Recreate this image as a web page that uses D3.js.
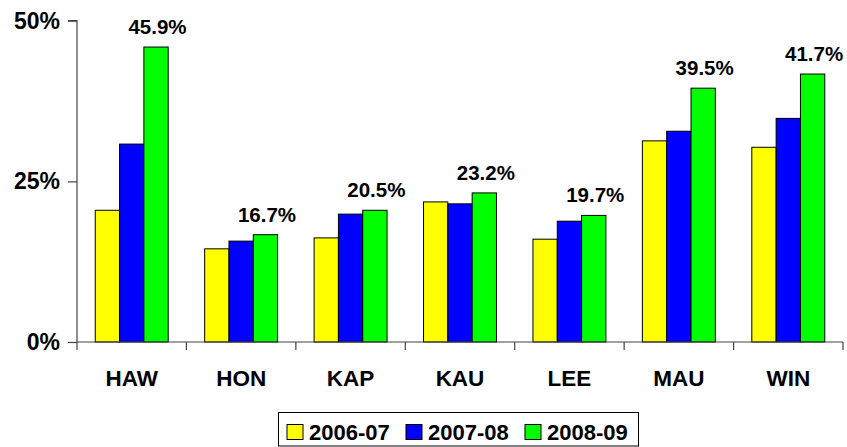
<!DOCTYPE html>
<html>
<head>
<meta charset="utf-8">
<script src="https://cdn.jsdelivr.net/npm/d3@7"></script>
<style>
  html, body { margin: 0; padding: 0; background: #fff; }
  svg { display: block; font-family: "Liberation Sans", Arial, sans-serif; font-weight: bold; }
</style>
</head>
<body>
<svg id="chart" width="847" height="447"></svg>
<script>
const categories = ["HAW", "HON", "KAP", "KAU", "LEE", "MAU", "WIN"];
const seriesNames = ["2006-07", "2007-08", "2008-09"];
const values0607 = [20.5, 14.5, 16.2, 21.8, 16.0, 31.3, 30.3];
const values0708 = [30.8, 15.7, 19.9, 21.5, 18.8, 32.8, 34.8];
const values0809 = [45.9, 16.7, 20.5, 23.2, 19.7, 39.5, 41.7];
const colors = ["#FFFF00", "#0000FF", "#00FF00"];
const yTicks = [0, 25, 50];

const seriesValues = [values0607, values0708, values0809];
const svg = d3.select("#chart");

const plotLeft = 77, plotRight = 843, plotTop = 20.7, plotBottom = 342;

const x0 = d3.scaleBand().domain(categories).range([plotLeft, plotRight]).paddingInner(0).paddingOuter(0);
const x1 = d3.scaleBand().domain(seriesNames).range([0, x0.bandwidth()]).paddingInner(0).paddingOuter(0.75);
const y = d3.scaleLinear().domain([0, 50]).range([plotBottom, plotTop]);

// bars
const groups = svg.append("g").selectAll("g")
  .data(categories)
  .join("g")
  .attr("transform", d => `translate(${x0(d)},0)`);

groups.selectAll("rect")
  .data((c, i) => seriesNames.map((s, j) => ({ s, j, v: seriesValues[j][i] })))
  .join("rect")
  .attr("x", d => x1(d.s))
  .attr("y", d => y(d.v))
  .attr("width", x1.bandwidth())
  .attr("height", d => y(0) - y(d.v))
  .attr("fill", d => colors[d.j])
  .attr("stroke", "#000")
  .attr("stroke-width", 1);

// data labels on last series
groups.append("text")
  .attr("x", x1(seriesNames[2]) + x1.bandwidth() / 2 + 1.5)
  .attr("y", (c, i) => y(values0809[i]) - 13)
  .attr("text-anchor", "middle")
  .attr("font-size", 20.5)
  .attr("fill", "#000")
  .text((c, i) => values0809[i].toFixed(1) + "%");

// y axis
const yAxis = d3.axisLeft(y).tickValues(yTicks).tickFormat(d => d + "%").tickSize(9).tickPadding(8);
const gy = svg.append("g").attr("transform", `translate(${plotLeft},0)`).call(yAxis);
gy.select(".domain").attr("stroke", "#444").attr("stroke-width", 1.2).attr("d", `M-9,${plotTop}H0V${plotBottom}`);
gy.selectAll(".tick line").attr("stroke", "#444").attr("stroke-width", 1.2);
gy.selectAll(".tick text").attr("font-size", 23).attr("font-family", "Liberation Sans, Arial, sans-serif").attr("font-weight", "bold").attr("fill", "#000");

// x axis
const boundaries = d3.range(categories.length + 1).map(i => plotLeft + i * x0.step());
svg.append("line").attr("x1", plotLeft).attr("x2", plotRight).attr("y1", plotBottom).attr("y2", plotBottom).attr("stroke", "#444").attr("stroke-width", 1.2);
svg.append("g").selectAll("line").data(boundaries).join("line")
  .attr("x1", d => d).attr("x2", d => d).attr("y1", plotBottom).attr("y2", plotBottom + 8)
  .attr("stroke", "#444").attr("stroke-width", 1.2);
svg.append("g").selectAll("text").data(categories).join("text")
  .attr("x", d => x0(d) + x0.bandwidth() / 2)
  .attr("y", 386)
  .attr("text-anchor", "middle")
  .attr("font-size", 22.5)
  .attr("fill", "#000")
  .text(d => d);

// legend
const legend = svg.append("g");
legend.append("rect").attr("x", 278.5).attr("y", 412.5).attr("width", 360).attr("height", 33.5)
  .attr("fill", "#fff").attr("stroke", "#000").attr("stroke-width", 1);
const entries = legend.selectAll("g").data(seriesNames).join("g")
  .attr("transform", (d, i) => `translate(${287 + i * 119},0)`);
entries.append("rect").attr("x", 0).attr("y", 424.5).attr("width", 16).attr("height", 15)
  .attr("fill", (d, i) => colors[i]).attr("stroke", "#000").attr("stroke-width", 1);
entries.append("text").attr("x", 22).attr("y", 440).attr("font-size", 22).attr("fill", "#000").text(d => d);
</script>
</body>
</html>
